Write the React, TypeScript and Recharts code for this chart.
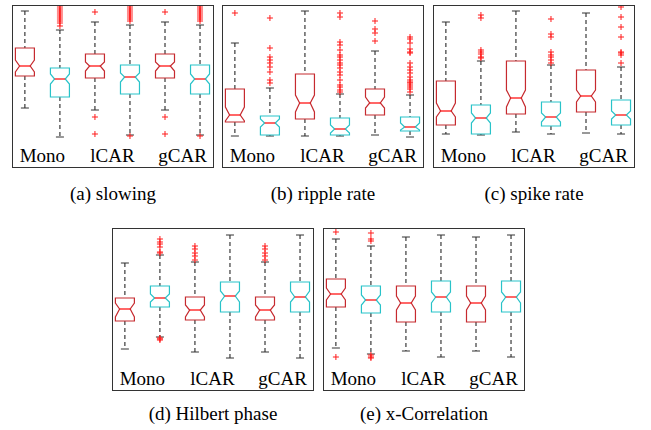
import React from 'react';
import { ComposedChart, Bar, XAxis, YAxis } from 'recharts';

const methods = ['Mono', 'lCAR', 'gCAR'];
const boxColors = ['#c62a2f', '#29c3c9'];

// each box: [lower whisker, q1, notch low, median, notch high, q3, upper whisker]
const slowingStats = [
  [32, 64, 68, 74, 80, 92, 129],
  [3, 43, 56, 61, 66, 72, 110],
  [30, 62, 69, 74, 78, 86, 118],
  [5, 46, 58, 63, 67, 75, 115],
  [30, 62, 69, 74, 78, 86, 118],
  [5, 46, 56, 61, 66, 75, 115],
];
const slowingOutliers = [
  [],
  [133, 131, 129, 127, 125, 123, 121, 119, 117, 114],
  [128, 23, 6],
  [133, 131, 129, 127, 125, 123, 121, 119, 4],
  [128, 23, 6],
  [133, 131, 129, 127, 125, 123, 121, 119, 4],
];

const rippleStats = [
  [4, 18, 19, 25, 33, 51, 97],
  [4, 5, 13, 17, 21, 24, 52],
  [4, 21, 28, 37, 45, 66, 129],
  [4, 5, 7, 11, 15, 22, 46],
  [5, 25, 32, 37, 43, 51, 89],
  [3, 9, 10, 13, 17, 23, 45],
];
const rippleOutliers = [
  [127],
  [122, 92, 83, 80, 77, 73, 68, 60, 57],
  [],
  [127, 123, 98, 95, 90, 85, 83, 80, 77, 75, 72, 68, 65, 60, 55, 53, 50, 48],
  [119, 111, 107, 99],
  [103, 101, 97, 91, 88, 87, 77, 73, 70, 67, 63, 60, 58, 57, 55, 53, 51, 48],
];

const spikeStats = [
  [6, 15, 23, 29, 37, 59, 118],
  [5, 6, 17, 22, 27, 35, 79],
  [8, 26, 33, 42, 50, 79, 129],
  [6, 14, 18, 23, 27, 38, 75],
  [7, 28, 38, 44, 50, 70, 127],
  [6, 15, 21, 25, 29, 40, 73],
];
const spikeOutliers = [
  [],
  [125, 122, 90, 88, 86, 83, 82],
  [],
  [121, 106, 103, 88, 85, 83, 80, 77],
  [],
  [133, 123, 113, 103, 88, 87, 85, 77],
];

const hilbertStats = [
  [14, 42, 46, 54, 60, 65, 100],
  [26, 56, 61, 65, 69, 77, 108],
  [11, 43, 46, 53, 58, 66, 101],
  [5, 51, 61, 67, 72, 81, 128],
  [11, 43, 46, 53, 58, 66, 101],
  [5, 51, 61, 66, 72, 81, 128],
];
const hilbertOutliers = [
  [],
  [124, 121, 119, 116, 111, 110, 25, 24, 23],
  [117, 114, 110, 107, 103],
  [],
  [117, 114, 110, 107, 103],
  [],
];

const xcorrStats = [
  [15, 56, 63, 69, 75, 84, 124],
  [9, 50, 58, 63, 68, 77, 117],
  [12, 41, 53, 60, 67, 77, 126],
  [6, 51, 60, 66, 71, 82, 128],
  [12, 41, 53, 60, 67, 77, 126],
  [6, 51, 60, 66, 71, 82, 128],
];
const xcorrOutliers = [
  [131, 6],
  [130, 124, 122, 8, 6, 5],
  [],
  [],
  [],
  [],
];

const FONT = '"Liberation Serif", "Times New Roman", serif';

const BoxShape = (props: any) => {
  const { x, y, width, height, payload } = props;
  const s: number[] = payload.stats;
  const lo = s[0];
  const hi = s[6];
  const py = (v: number) => y + (height * (hi - v)) / (hi - lo);
  const cx = x + width / 2;
  const x0 = x;
  const x1 = x + width;
  const inset = width * 0.22;
  const color = payload.color;
  const box =
    `M${x0},${py(s[5])} L${x1},${py(s[5])} L${x1},${py(s[4])} L${x1 - inset},${py(s[3])} ` +
    `L${x1},${py(s[2])} L${x1},${py(s[1])} L${x0},${py(s[1])} L${x0},${py(s[2])} ` +
    `L${x0 + inset},${py(s[3])} L${x0},${py(s[4])} Z`;
  return (
    <g>
      <line x1={cx} x2={cx} y1={py(s[6])} y2={py(s[5])} stroke="#111" strokeDasharray="4 3" />
      <line x1={cx} x2={cx} y1={py(s[1])} y2={py(s[0])} stroke="#111" strokeDasharray="4 3" />
      <line x1={cx - 4} x2={cx + 4} y1={py(s[6])} y2={py(s[6])} stroke="#333" />
      <line x1={cx - 4} x2={cx + 4} y1={py(s[0])} y2={py(s[0])} stroke="#333" />
      <path d={box} fill="#fff" stroke={color} strokeWidth={1.2} />
      <line x1={x0 + inset} x2={x1 - inset} y1={py(s[3])} y2={py(s[3])} stroke="#ff0000" strokeWidth={1.2} />
      {payload.outliers.map((v: number, k: number) => (
        <g key={k} stroke="#ff1a1a" strokeWidth={1}>
          <line x1={cx - 3} x2={cx + 3} y1={py(v)} y2={py(v)} />
          <line x1={cx} x2={cx} y1={py(v) - 3} y2={py(v) + 3} />
        </g>
      ))}
    </g>
  );
};

const tickPositions = methods.map((_, i) => 1.5 + i * 2);

function Panel({ left, top, stats, outliers, caption, captionTop }: any) {
  const data = stats.map((s: number[], i: number) => ({
    pos: i + 1,
    range: [s[0], s[6]],
    stats: s,
    outliers: outliers[i],
    color: boxColors[i % 2],
  }));
  return (
    <>
      <div
        style={{
          position: 'absolute',
          left,
          top,
          width: 202,
          height: 163,
          border: '1px solid #333',
          boxSizing: 'border-box',
          background: '#fff',
        }}
      >
        <ComposedChart width={200} height={161} data={data} margin={{ top: 0, right: 0, bottom: 0, left: 0 }}>
          <XAxis
            dataKey="pos"
            type="number"
            domain={[0.66, 6.37]}
            ticks={tickPositions}
            interval={0}
            allowDataOverflow
            axisLine={false}
            tickLine={false}
            tickSize={0}
            tickMargin={9}
            height={27}
            tickFormatter={(v: number) => methods[Math.round((v - 1.5) / 2)]}
            tick={{ fill: '#000', fontSize: 19, fontFamily: FONT }}
          />
          <YAxis hide type="number" domain={[0, 134]} allowDataOverflow />
          <Bar dataKey="range" barSize={19} shape={<BoxShape />} isAnimationActive={false} />
        </ComposedChart>
      </div>
      <div
        style={{
          position: 'absolute',
          left: left - 40,
          top: captionTop,
          width: 282,
          textAlign: 'center',
          fontFamily: FONT,
          fontSize: 19,
          lineHeight: '19px',
          color: '#000',
        }}
      >
        {caption}
      </div>
    </>
  );
}

export default function App() {
  return (
    <div style={{ position: 'absolute', left: 0, top: 0, width: 651, height: 430, background: '#fff' }}>
      <Panel left={12} top={5} stats={slowingStats} outliers={slowingOutliers} caption="(a) slowing" captionTop={184} />
      <Panel left={222} top={5} stats={rippleStats} outliers={rippleOutliers} caption="(b) ripple rate" captionTop={184} />
      <Panel left={433} top={5} stats={spikeStats} outliers={spikeOutliers} caption="(c) spike rate" captionTop={184} />
      <Panel left={112} top={228} stats={hilbertStats} outliers={hilbertOutliers} caption="(d) Hilbert phase" captionTop={404} />
      <Panel left={323} top={228} stats={xcorrStats} outliers={xcorrOutliers} caption="(e) x-Correlation" captionTop={404} />
    </div>
  );
}
